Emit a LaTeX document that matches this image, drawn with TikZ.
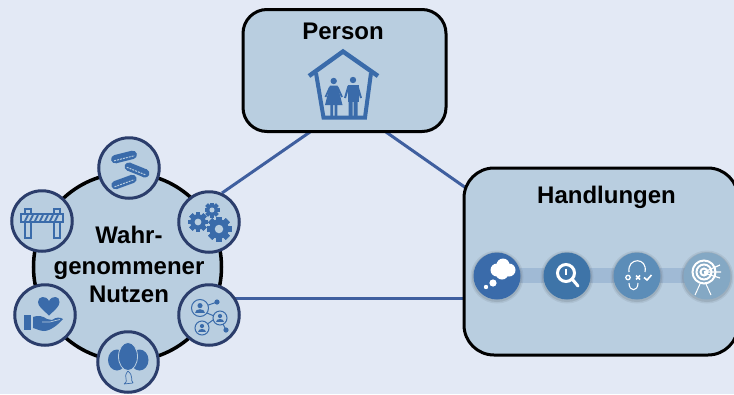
\documentclass[tikz,border=0pt]{standalone}
\usepackage{fontspec}
\setmainfont{Liberation Sans}
\definecolor{pagebg}{HTML}{E3E9F5}
\definecolor{boxfill}{HTML}{B9CEE0}
\definecolor{ringcol}{HTML}{2B3D6B}
\definecolor{linkcol}{HTML}{3F5F9F}
\definecolor{iconcol}{HTML}{3A6BAA}
\definecolor{barcol}{HTML}{A0BAD5}
\tikzset{
  titlebox/.style={draw=black,fill=boxfill,line width=3pt,rounded corners=24pt,inner sep=0pt},
  bigring/.style={circle,draw=black,fill=boxfill,line width=3.5pt,minimum size=188pt,inner sep=0pt},
  smallring/.style={circle,draw=ringcol,fill=boxfill,line width=3pt,minimum size=60.5pt,inner sep=0pt},
  stepdot/.style={circle,minimum size=47pt,inner sep=0pt},
  link/.style={draw=linkcol,line width=3pt},
  label/.style={font=\fontsize{24}{29}\selectfont\bfseries,align=center},
  icon/.style={fill=iconcol,draw=none},
  iconline/.style={draw=iconcol,line width=1.5pt},
  whiteline/.style={draw=white,line width=2.4pt},
}
% gear: x, y, radius
\newcommand{\gearicon}[3]{
  \foreach \a in {0,45,...,315}
    \fill[iconcol,rotate around={\a:(#1,#2)}] (#1-#3*0.24,#2-#3) rectangle (#1+#3*0.24,#2+#3);
  \fill[iconcol] (#1,#2) circle [radius=#3*0.78];
  \fill[boxfill] (#1,#2) circle [radius=#3*0.34];
}
% contact: x, y, radius
\newcommand{\contacticon}[3]{
  \draw[iconcol,line width=1pt,fill=boxfill] (#1,#2) circle [radius=#3];
  \fill[iconcol] (#1,#2-#3*0.28) circle [radius=#3*0.3];
  \fill[iconcol] (#1-#3*0.62,#2+#3*0.55) .. controls (#1-#3*0.62,#2+#3*0.05) and (#1+#3*0.62,#2+#3*0.05) .. (#1+#3*0.62,#2+#3*0.55) -- cycle;
}
% coin: x, y, angle
\newcommand{\coinicon}[3]{
  \begin{scope}[shift={(#1,#2)},rotate=#3]
    \fill[iconcol] (-9,-4.2) rectangle (9,4.2);
    \fill[iconcol] (-9,0) circle [radius=4.2];
    \fill[iconcol] (9,0) circle [radius=4.2];
    \draw[boxfill,line width=1pt,dash pattern=on 2pt off 1pt] (-10.5,1.3) -- (10.5,1.3);
  \end{scope}
}
\begin{document}
\begin{tikzpicture}[x=1pt,y=-1pt]
 \useasboundingbox (0,0) rectangle (734,394);
 \fill[pagebg] (0,0) rectangle (734,394);

 \coordinate (linkA) at (310,132);
 \coordinate (linkB) at (222,193);
 \coordinate (linkC) at (386,132);
 \coordinate (linkD) at (466,188);
 \coordinate (linkE) at (220,298);
 \coordinate (linkF) at (465,298);
 \draw[link] (linkA) -- (linkB);
 \draw[link] (linkC) -- (linkD);
 \draw[link] (linkE) -- (linkF);

 \node (person) at (344.5,70.5) [titlebox,minimum width=203pt,minimum height=122pt] {};
 \node (handlungen) at (601,261.5) [titlebox,rounded corners=30pt,minimum width=274pt,minimum height=187pt] {};
 \node (nutzen) at (127.5,267) [bigring] {};

 \path (343,31) node(personlabel)[label]{Person};
 \path (606.5,197) node(handlabel)[label]{Handlungen};
 \path (129,264) node(nutzenlabel)[label]{Wahr-\\[2pt]genommener\\[-1pt]Nutzen};

 \node (top) at (129,168) [smallring] {};
 \node (gears) at (209,222) [smallring] {};
 \node (network) at (209,315) [smallring] {};
 \node (balloons) at (128,362) [smallring] {};
 \node (hand) at (45,315) [smallring] {};
 \node (barrier) at (42,221) [smallring] {};

 % house
 \draw[iconcol,line width=4.4pt,line join=miter] (309,76) -- (343,51.5) -- (378,76);
 \draw[iconcol,line width=4pt] (316,73) -- (323.5,117.5) -- (365,117.5) -- (371,73);
 % woman and man
 \fill[iconcol] (333.7,81) circle [radius=3.2];
 \fill[iconcol] (330,85.5) -- (337.5,85.5) -- (342.5,105) -- (325,105) -- cycle;
 \draw[iconcol,line width=1.8pt] (330,87) -- (325.5,97) (337.5,87) -- (342,97);
 \fill[iconcol] (330.3,104) rectangle (333,116) (334.6,104) rectangle (337.3,116);
 \fill[iconcol] (353,80) circle [radius=3.2];
 \fill[iconcol] (347.5,85) rectangle (358.5,102);
 \fill[iconcol] (348.5,102) rectangle (352.5,116) (353.5,102) rectangle (357.5,116);
 \draw[iconcol,line width=2pt] (348.5,86) -- (345,98) (357.5,86) -- (361,98);

 % coins
 \coinicon{124}{157}{14}
 \coinicon{137}{170}{-22}
 \coinicon{124}{182}{20}

 % gears
 \gearicon{198}{222}{10}
 \gearicon{212}{210}{7.5}
 \gearicon{219}{229}{12.5}

 % network
 \draw[iconline,line width=1pt] (200,308) -- (217,302) (207,313) -- (214,316) (220,318) -- (226,330) (202,328) -- (213,320);
 \fill[iconcol] (217,302) circle [radius=2.6] (226,330) circle [radius=2.6];
 \contacticon{200}{308}{8.5}
 \contacticon{220}{318}{7}
 \contacticon{202}{328}{7}

 % balloons
 \draw[iconcol,line width=0.7pt] (128,371) .. controls (122,378) and (130,380) .. (124,384) (128,371) .. controls (134,376) and (130,380) .. (133,383) (124,384) -- (133,383);
 \fill[iconcol] (117,360) ellipse [x radius=9,y radius=10.5];
 \fill[iconcol] (139.5,360) ellipse [x radius=9,y radius=10.5];
 \draw[boxfill,line width=0.8pt,fill=iconcol] (128,356.5) ellipse [x radius=9.5,y radius=14];

 % hand and heart
 \fill[iconcol] (49,315.5) .. controls (42,309) and (38,306) .. (38,302) .. controls (38,296) and (46,295) .. (49,301) .. controls (52,295) and (60,296) .. (59.5,302) .. controls (59.5,306) and (56,309) .. (49,315.5) -- cycle;
 \fill[iconcol] (24,315) rectangle (31,330);
 \fill[iconcol] (33,317) .. controls (38,315) and (43,316) .. (47,319) -- (52,320) .. controls (56,317) and (60,317) .. (63,319) .. controls (58,325) and (50,331) .. (44,331) .. controls (40,331) and (37,329) .. (33,328) -- cycle;
 \draw[boxfill,line width=0.7pt] (42,322) -- (50,322) .. controls (54,321) and (57,320) .. (60,319.5);

 % barrier
 \draw[iconline,line width=2pt,fill=boxfill] (25,208.5) rectangle (30.5,238);
 \draw[iconline,line width=2pt,fill=boxfill] (54,208.5) rectangle (59.5,238);
 \draw[iconline,line width=2pt,fill=boxfill] (21,214) rectangle (63,221.5);
 \foreach \i in {25,30,...,55}
   \draw[iconcol,line width=2pt] (\i,221) -- (\i+3,215);

 % step bar and dots
 \fill[barcol] (497,268) rectangle (707,283);
 \foreach \dotname/\dotx/\dotcol in {thought/497/3A6BAA,search/567/3E74A8,plan/637/5C8DB8,target/707/84A8C4} {
   \fill[black!50!boxfill,opacity=0.12] (\dotx,277) circle [radius=26.5];
   \fill[black!50!boxfill,opacity=0.2] (\dotx,277) circle [radius=25];
   \definecolor{dotfill}{HTML}{\dotcol}
   \node (\dotname) at (\dotx,276) [stepdot,fill=dotfill] {};
 }

 % thought
 \fill[white] (497,270) circle [radius=6.5] (503,265) circle [radius=6.5] (509,270) circle [radius=6.5] (502,273) circle [radius=6.5];
 \fill[white] (493,283) circle [radius=3.6] (486,287) circle [radius=2.2];
 % search
 \draw[whiteline,line width=3pt] (566,273) circle [radius=8.5];
 \draw[whiteline,line width=3pt,line cap=round] (572.5,279.5) -- (578,286);
 \draw[whiteline,line width=2.2pt] (566,268.5) -- (566,275);
 % plan
 \draw[whiteline,line width=1.1pt] (629,272) .. controls (627,257) and (648,257) .. (645,272);
 \draw[whiteline,line width=1.1pt] (629,283) .. controls (629,292) and (638,292) .. (638,283);
 \draw[whiteline,line width=1.3pt] (628,277.5) circle [radius=2.2];
 \draw[whiteline,line width=1.5pt] (636,275.5) -- (640,279.5) (640,275.5) -- (636,279.5);
 \draw[whiteline,line width=1.6pt] (644,277.5) -- (647,280) -- (651.5,275);
 % target
 \foreach \r in {11.5,7.5,3.5}
   \draw[white,line width=2pt] (704,272) circle [radius=\r];
 \draw[white,line width=1pt] (700,284) -- (695,295) (706,284) -- (711,295);
 \draw[white,line width=1.2pt] (704,272) -- (720,265) (704,272) -- (721,272) (704,273) -- (720,278);
\end{tikzpicture}
\end{document}
